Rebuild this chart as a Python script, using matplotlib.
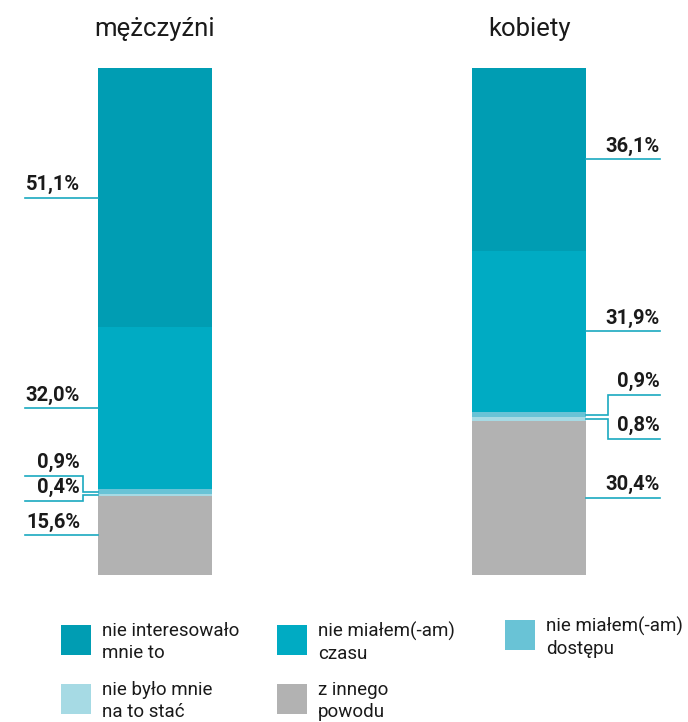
import numpy as np
import matplotlib.pyplot as plt
from matplotlib.patches import Rectangle

plt.rcParams['font.family'] = ['Roboto', 'DejaVu Sans']

# data
groups = ['mężczyźni', 'kobiety']
categories = ['nie interesowało\nmnie to', 'nie miałem(-am)\nczasu',
              'nie miałem(-am)\ndostępu', 'nie było mnie\nna to stać',
              'z innego\npowodu']
# values listed bottom -> top (z innego, stać, dostępu, czasu, interesowało)
men = [15.6, 0.4, 0.9, 32.0, 51.1]
women = [30.4, 0.8, 0.9, 31.9, 36.1]
labels_men = ['15,6%', '0,4%', '0,9%', '32,0%', '51,1%']
labels_women = ['30,4%', '0,8%', '0,9%', '31,9%', '36,1%']
colors = ['#b2b2b2', '#a6dae4', '#69c3d6', '#00abc3', '#009db3']  # bottom -> top
legend_colors = ['#009db3', '#00abc3', '#69c3d6', '#a6dae4', '#b2b2b2']

W, H = 688, 722
LINE = '#1aa9c0'
TXT = '#1a1a1a'

fig = plt.figure(figsize=(W / 100, H / 100), dpi=100)
# axes: y=0 at px 575, y=100 at px 68
ax = fig.add_axes([0, (H - 575) / H, 1, 507 / H])
ax.set_ylim(0, 100)
ax.set_xlim(0, W)
ax.axis('off')

centers = [155, 529]
bw = 114
for xc, vals in zip(centers, [men, women]):
    bottom = 0
    for v, c in zip(vals, colors):
        ax.bar(xc, v, bw, bottom=bottom, color=c, linewidth=0)
        bottom += v

px = 507 / 100  # pixels per percent


def label(vals, labs, side):
    cum = np.cumsum([0] + vals)
    mids = (cum[:-1] + cum[1:]) / 2
    for i, (m, lab) in enumerate(zip(mids, labs)):
        if side == 'left':
            x_bar, x_far, x_txt = 98, 25, 80
            x_elb = 83
            offs = {1: 6, 2: -16}
        else:
            x_bar, x_far, x_txt = 586, 660, 660
            x_elb = 608
            offs = {1: 20, 2: -20}
        if i in offs:
            ly = m - offs[i] / px
            ax.plot([x_bar, x_elb, x_elb, x_far], [m, m, ly, ly],
                    color=LINE, lw=1.2, solid_joinstyle='miter')
        else:
            ly = m
            ax.plot([x_bar, x_far], [ly, ly], color=LINE, lw=1.2)
        ax.text(x_txt, ly + 3.5 / px, lab, ha='right', va='bottom',
                fontsize=14.5, fontweight='bold', color=TXT)


label(men, labels_men, 'left')
label(women, labels_women, 'right')

# titles
for xc, g in zip(centers, groups):
    fig.text(xc / W, 1 - 29 / H, g, ha='center', va='center',
             fontsize=18.5, color=TXT)

# legend
leg_pos = [(61, 625), (277, 625), (505, 620), (61, 684), (277, 684)]
for (lx, ly), c, name in zip(leg_pos, legend_colors, categories):
    fig.add_artist(Rectangle((lx / W, 1 - (ly + 30) / H), 30 / W, 30 / H,
                             transform=fig.transFigure, color=c, lw=0))
    fig.text((lx + 41) / W, 1 - (ly - 3) / H, name, ha='left', va='top',
             fontsize=13.5, color=TXT, linespacing=1.3)

fig.savefig('out.png', dpi=100, facecolor='white')
